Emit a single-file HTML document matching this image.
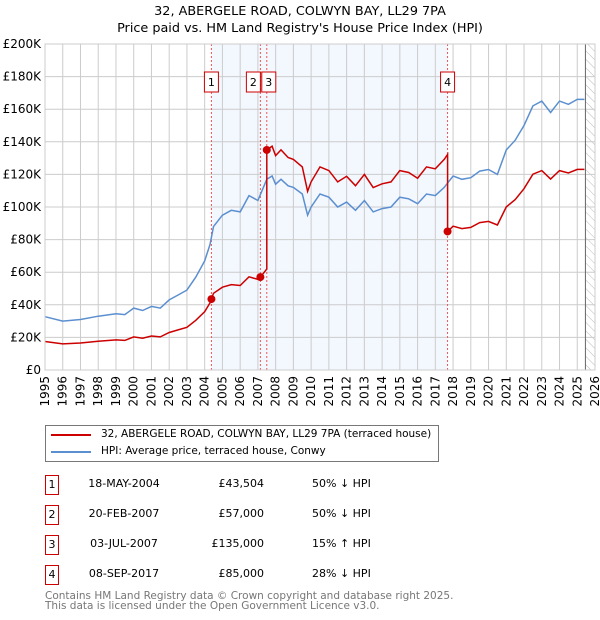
<!DOCTYPE html>
<html><head><meta charset="utf-8"><style>
body{margin:0;background:#fff;font-family:"DejaVu Sans","Liberation Sans",sans-serif;}
#wrap{position:relative;width:600px;height:620px;overflow:hidden}
.t{position:absolute;white-space:nowrap;color:#000}
</style></head><body><div id="wrap">
<svg id="chart" width="600" height="620" style="position:absolute;left:0;top:0" font-family="DejaVu Sans, Liberation Sans, sans-serif">
<text x="300" y="15" text-anchor="middle" font-size="12.8">32, ABERGELE ROAD, COLWYN BAY, LL29 7PA</text>
<text x="300" y="32" text-anchor="middle" font-size="12.8">Price paid vs. HM Land Registry's House Price Index (HPI)</text>
<defs><pattern id="hatch" width="6" height="6" patternUnits="userSpaceOnUse" patternTransform="rotate(-45)"><line x1="0" y1="0" x2="0" y2="6" stroke="#bbb" stroke-width="1"/></pattern></defs>
<g id="plot"></g>
</svg>
<div class="t" style="left:45px;top:425px;width:392px;height:35px;border:1px solid #777">
<div style="position:absolute;left:5px;top:8px;width:40px;height:2px;background:#cc0000"></div>
<div class="t" style="left:55px;top:2px;font-size:10.5px">32, ABERGELE ROAD, COLWYN BAY, LL29 7PA (terraced house)</div>
<div style="position:absolute;left:5px;top:25px;width:40px;height:2px;background:#5b8fd0"></div>
<div class="t" style="left:55px;top:19px;font-size:10.5px">HPI: Average price, terraced house, Conwy</div>
</div>
<div id="tbl"></div>
<div class="t" style="left:45px;top:591px;font-size:10.5px;color:#777;line-height:10px">Contains HM Land Registry data © Crown copyright and database right 2025.<br>This data is licensed under the Open Government Licence v3.0.</div>
</div>
<script>
const hpiYears=[1995,1996,1997,1998,1999,1999.5,2000,2000.5,2001,2001.5,2002,2002.5,2003,2003.5,2004,2004.3,2004.5,2005,2005.5,2006,2006.5,2007,2007.5,2007.8,2008,2008.3,2008.7,2009,2009.5,2009.8,2010,2010.5,2011,2011.5,2012,2012.5,2013,2013.5,2014,2014.5,2015,2015.5,2016,2016.5,2017,2017.5,2018,2018.5,2019,2019.5,2020,2020.5,2021,2021.5,2022,2022.5,2023,2023.5,2024,2024.5,2025,2025.4];
const hpiValues=[32.7,30,31,33,34.5,34,38,36.5,39,38,43,46,49,57,67,77,88,95,98,97,107,104,117,119,114,117,113,112,108,95,100,108,106,100,103,98,104,97,99,100,106,105,102,108,107,112,119,117,118,122,123,120,135,141,150,162,165,158,165,163,166,166];
const saleLabels=["1","2","3","4"];
const saleYears=[2004.38,2007.14,2007.5,2017.69];
const salePrices=[43.504,57,135,85];
const saleDates=["18-MAY-2004","20-FEB-2007","03-JUL-2007","08-SEP-2017"];
const salePriceText=["£43,504","£57,000","£135,000","£85,000"];
const saleHpiText=["50% ↓ HPI","50% ↓ HPI","15% ↑ HPI","28% ↓ HPI"];
const yTicks=[0,20,40,60,80,100,120,140,160,180,200];
const xTicks=[1995,1996,1997,1998,1999,2000,2001,2002,2003,2004,2005,2006,2007,2008,2009,2010,2011,2012,2013,2014,2015,2016,2017,2018,2019,2020,2021,2022,2023,2024,2025,2026];
const X0=45,X1=595,Y0=370,Y1=44;
const xs=y=>X0+(y-1995)/(2026-1995)*(X1-X0);
const ys=v=>Y0-v/200*(Y0-Y1);
const NS="http://www.w3.org/2000/svg";
const g=document.getElementById('plot');
function mk(t,a){const e=document.createElementNS(NS,t);for(const k in a)e.setAttribute(k,a[k]);g.appendChild(e);return e;}
function hpiAt(t){if(t<=hpiYears[0])return hpiValues[0];for(let i=1;i<hpiYears.length;i++){if(t<=hpiYears[i]){const f=(t-hpiYears[i-1])/(hpiYears[i]-hpiYears[i-1]);return hpiValues[i-1]+f*(hpiValues[i]-hpiValues[i-1]);}}return hpiValues[hpiValues.length-1];}
let e=mk('rect',{x:xs(saleYears[0]),y:Y1,width:xs(saleYears[3])-xs(saleYears[0]),height:Y0-Y1,fill:'#f3f7fe'});

const hs=2025.46;
e=mk('rect',{x:xs(hs),y:Y1,width:X1-xs(hs),height:Y0-Y1,fill:'url(#hatch)'});

xTicks.forEach(t=>{let l=mk('line',{x1:xs(t),x2:xs(t),y1:Y1,y2:Y0,stroke:'#ccc','stroke-width':1});

let tx=mk('text',{x:0,y:0,'font-size':12,'text-anchor':'end',transform:`translate(${xs(t)+4},${Y0+6}) rotate(-90)`});tx.textContent=t;
});
yTicks.forEach(v=>{let l=mk('line',{x1:X0,x2:X1,y1:ys(v),y2:ys(v),stroke:'#ccc','stroke-width':1});

let tx=mk('text',{x:X0-4,y:ys(v)+4,'font-size':12,'text-anchor':'end'});tx.textContent='£'+(v?v+'K':'0');
});
e=mk('line',{x1:xs(hs),x2:xs(hs),y1:Y1,y2:Y0,stroke:'#666','stroke-width':1});

saleYears.forEach((s,i)=>{let l=mk('line',{x1:xs(s),x2:xs(s),y1:Y1,y2:Y0,stroke:'#ee5555','stroke-width':1,'stroke-dasharray':'2,2'});
});
let hp=hpiYears.map((t,i)=>xs(t).toFixed(1)+','+ys(hpiValues[i]).toFixed(1)).join(' ');
e=mk('polyline',{points:hp,fill:'none',stroke:'#5b8fd0','stroke-width':1.5});

const ratios=saleYears.map((s,i)=>salePrices[i]/hpiAt(s));
let pts=[];
const allT=hpiYears.concat(saleYears).sort((a,b)=>a-b);
allT.forEach(t=>{let k=0;for(let i=0;i<saleYears.length;i++)if(t>=saleYears[i])k=i;
if(saleYears.includes(t)){const i=saleYears.indexOf(t);if(i>0)pts.push([t,hpiAt(t)*ratios[i-1]]);pts.push([t,salePrices[i]]);}
else pts.push([t,hpiAt(t)*ratios[k]]);});
e=mk('polyline',{points:pts.map(p=>xs(p[0]).toFixed(1)+','+ys(p[1]).toFixed(1)).join(' '),fill:'none',stroke:'#cc0000','stroke-width':1.5});

saleYears.forEach((s,i)=>{let c=mk('circle',{cx:xs(s),cy:ys(salePrices[i]),r:4,fill:'#cc0000'});

let bx=xs(s)-(i==1?14:7);
if(i==2)bx=xs(s)-5;
let r=mk('rect',{x:bx,y:72,width:14,height:20,fill:'#fff',stroke:'#cc0000','stroke-width':1});

let tx=mk('text',{x:bx+7,y:86,'font-size':11,'text-anchor':'middle'});tx.textContent=saleLabels[i];
});
e=mk('rect',{x:X0,y:Y1,width:X1-X0,height:Y0-Y1,fill:'none',stroke:'#ccc'});

const tbl=document.getElementById('tbl');
saleLabels.forEach((l,i)=>{const top=475+i*30;
const row=document.createElement('div');row.className='t';row.style.cssText=`left:0;top:${top}px;width:600px;height:20px;font-size:11px`;


row.innerHTML=`<div class="t" style="left:45px;top:0;width:12px;height:18px;border:1px solid #cc0000;text-align:center;line-height:18px">${l}</div>
<div class="t" style="left:84px;top:2px;width:80px;text-align:center">${saleDates[i]}</div>
<div class="t" style="left:184px;top:2px;width:80px;text-align:right">${salePriceText[i]}</div>
<div class="t" style="left:312px;top:2px">${saleHpiText[i]}</div>`;
tbl.appendChild(row);});
</script></body></html>
